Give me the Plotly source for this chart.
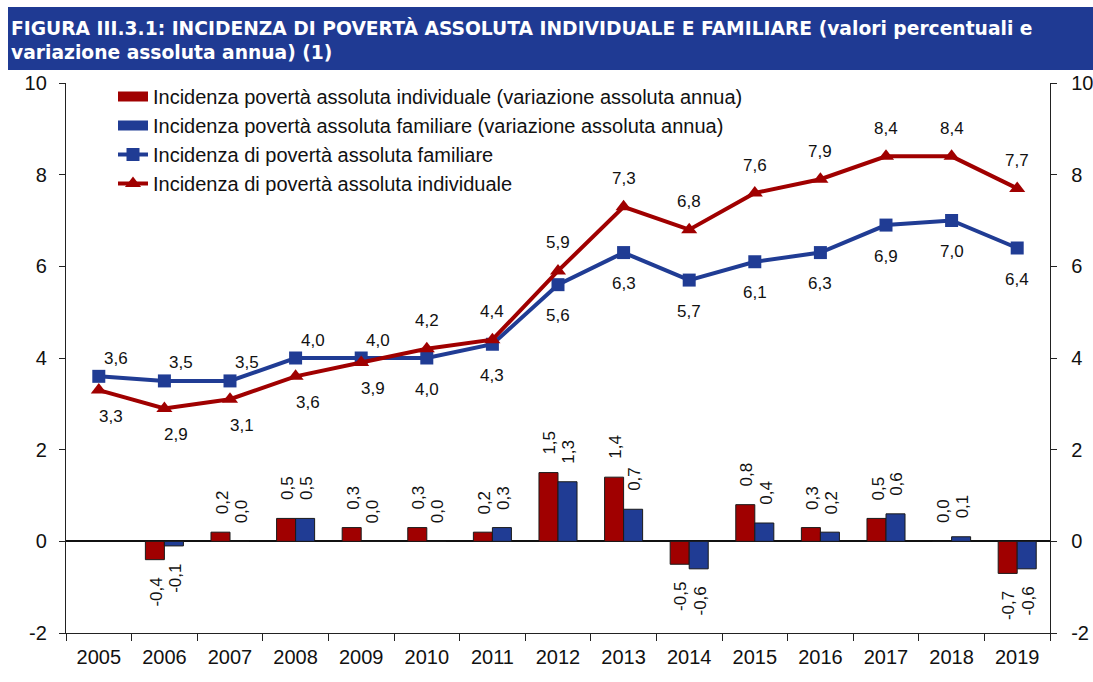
import plotly.graph_objects as go

years = [str(y) for y in range(2005, 2020)]
fam_level = [3.6, 3.5, 3.5, 4.0, 4.0, 4.0, 4.3, 5.6, 6.3, 5.7, 6.1, 6.3, 6.9, 7.0, 6.4]
ind_level = [3.3, 2.9, 3.1, 3.6, 3.9, 4.2, 4.4, 5.9, 7.3, 6.8, 7.6, 7.9, 8.4, 8.4, 7.7]
ind_change = [None, -0.4, 0.2, 0.5, 0.3, 0.3, 0.2, 1.5, 1.4, -0.5, 0.8, 0.3, 0.5, 0.0, -0.7]
fam_change = [None, -0.1, 0.0, 0.5, 0.0, 0.0, 0.3, 1.3, 0.7, -0.6, 0.4, 0.2, 0.6, 0.1, -0.6]
y_ticks = [-2, 0, 2, 4, 6, 8, 10]

fam_label_side = ["above"] * 5 + ["below"] * 10
ind_label_side = ["below"] * 5 + ["above"] * 10

RED = "#A00000"
BLUE = "#203C94"
BANNER = "#1F3A93"
FONT = "Liberation Sans, Arial, sans-serif"

NAMES = [
    "Incidenza povertà assoluta individuale (variazione assoluta annua)",
    "Incidenza povertà assoluta familiare (variazione assoluta annua)",
    "Incidenza di povertà assoluta familiare",
    "Incidenza di povertà assoluta individuale",
]


def it(v):
    return f"{v:.1f}".replace(".", ",")


fig = go.Figure()
fig.add_trace(go.Bar(
    x=years, y=ind_change, name=NAMES[0], showlegend=False,
    marker=dict(color=RED, line=dict(color="#1a1a1a", width=1)),
))
fig.add_trace(go.Bar(
    x=years, y=fam_change, name=NAMES[1], showlegend=False,
    marker=dict(color=BLUE, line=dict(color="#1a1a1a", width=1)),
))
# legend stand-ins for the bars (wide rectangles as in the reference)
fig.add_trace(go.Scatter(x=[None], y=[None], name=NAMES[0], mode="lines",
                         line=dict(color=RED, width=10)))
fig.add_trace(go.Scatter(x=[None], y=[None], name=NAMES[1], mode="lines",
                         line=dict(color=BLUE, width=10)))
fig.add_trace(go.Scatter(
    x=years, y=fam_level, name=NAMES[2], mode="lines+markers",
    line=dict(color=BLUE, width=4), marker=dict(symbol="square", size=13, color=BLUE),
))
fig.add_trace(go.Scatter(
    x=years, y=ind_level, name=NAMES[3], mode="lines+markers",
    line=dict(color=RED, width=4), marker=dict(symbol="triangle-up", size=14, color=RED),
))
fig.add_trace(go.Scatter(x=years, y=ind_level, yaxis="y2", mode="none",
                         showlegend=False, hoverinfo="skip"))

annotations = []
for series, dx in ((ind_change, -8), (fam_change, 11)):
    for i, v in enumerate(series):
        if v is None:
            continue
        annotations.append(dict(
            x=i, y=v, xref="x", yref="y", text=it(v), showarrow=False, textangle=-90,
            xshift=dx, yshift=16 if v >= 0 else -16, yanchor="bottom" if v >= 0 else "top",
            font=dict(family=FONT, size=17, color="#111"),
        ))
for series, sides, shifts in (
    (fam_level, fam_label_side, {"above": (17, 18), "below": (0, -31)}),
    (ind_level, ind_label_side, {"above": (0, 28), "below": (12, -26)}),
):
    for i, (v, s) in enumerate(zip(series, sides)):
        dx, dy = shifts[s]
        annotations.append(dict(
            x=i, y=v, xref="x", yref="y", text=it(v), showarrow=False,
            xshift=dx, yshift=dy, font=dict(family=FONT, size=17, color="#111"),
        ))

L, R, T, B = 66, 43, 83, 49
W, H = 1093, 682
pw, ph = W - L - R, H - T - B


def px_x(p):
    return (p - L) / pw


def px_y(p):
    return (H - B - p) / ph


annotations.append(dict(
    x=px_x(9), y=px_y(40), xref="paper", yref="paper", xanchor="left", yanchor="middle",
    align="left", showarrow=False,
    text="<b>FIGURA III.3.1: INCIDENZA DI POVERTÀ ASSOLUTA INDIVIDUALE E FAMILIARE (valori percentuali e<br>variazione assoluta annua) (1)</b>",
    font=dict(family="DejaVu Sans, sans-serif", size=18.7, color="white"),
))

shapes = [dict(
    type="rect", xref="paper", yref="paper", x0=px_x(8), x1=px_x(1093), y0=px_y(70), y1=px_y(7),
    fillcolor=BANNER, line=dict(width=0), layer="below",
)]

axis_common = dict(
    showline=True, linecolor="#222", linewidth=1.3, ticks="outside", tickcolor="#222",
    showgrid=False, tickfont=dict(family=FONT, size=20, color="#111"), automargin=False,
)

fig.update_layout(
    width=W, height=H, margin=dict(l=L, r=R, t=T, b=B, autoexpand=False),
    paper_bgcolor="white", plot_bgcolor="white",
    barmode="group", bargap=0.42, bargroupgap=0,
    font=dict(family=FONT, size=20, color="#111"),
    showlegend=True,
    legend=dict(
        x=px_x(113), y=px_y(77), xanchor="left", yanchor="top", bgcolor="rgba(0,0,0,0)",
        font=dict(family=FONT, size=20, color="#111"), tracegroupgap=0,
        traceorder="normal",
    ),
    xaxis=dict(
        type="category", range=[-0.5, 14.5], tickson="boundaries", ticklen=7,
        ticklabelstandoff=6, **axis_common,
    ),
    yaxis=dict(
        range=[-2, 10], tickvals=y_ticks, ticktext=[str(t) for t in y_ticks], ticklen=6,
        ticklabelstandoff=8, zeroline=True, zerolinecolor="#111", zerolinewidth=1.5,
        **axis_common,
    ),
    yaxis2=dict(
        range=[-2, 10], tickvals=y_ticks, ticktext=[str(t) for t in y_ticks], overlaying="y",
        side="right", ticklen=6, ticklabelstandoff=10, zeroline=False, **axis_common,
    ),
    annotations=annotations, shapes=shapes,
)

fig.write_html("out.html", post_script="document.body.style.margin='0px';",
               config={"displayModeBar": False})
